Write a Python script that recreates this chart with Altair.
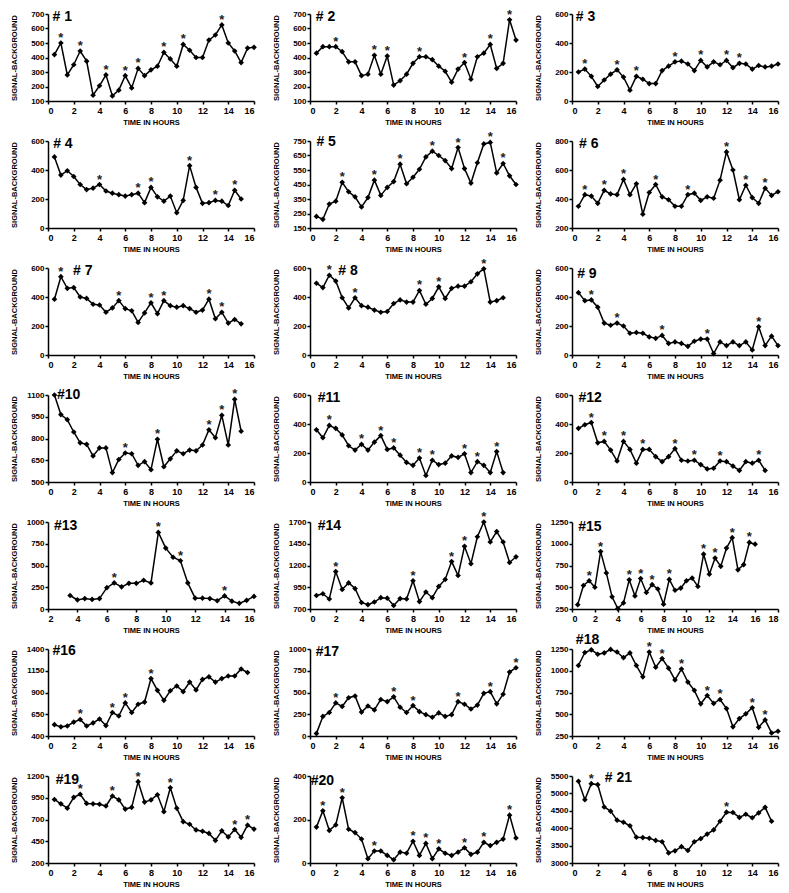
import altair as alt
import pandas as pd

FONT = "Liberation Sans"

# ---- data: signal-background values every 0.5 h, starting at START hours ----
V1 = [420, 500, 280, 350, 445, 375, 140, 205, 280, 135, 175, 275, 190, 325, 275, 315,
      340, 435, 390, 340, 490, 450, 400, 400, 520, 555, 625, 500, 445, 365, 465, 470]
V2 = [430, 475, 475, 475, 440, 370, 370, 275, 285, 415, 285, 410, 210, 240, 285, 360,
      405, 405, 385, 340, 305, 230, 320, 365, 250, 405, 430, 490, 325, 360, 660, 520]
V3 = [200, 220, 170, 100, 145, 185, 215, 165, 75, 170, 150, 120, 120, 210, 240, 270,
      275, 255, 210, 280, 235, 270, 250, 280, 230, 260, 255, 220, 245, 235, 240, 255]
V4 = [490, 365, 395, 355, 300, 265, 275, 300, 255, 240, 230, 220, 230, 240, 175, 280,
      215, 185, 220, 105, 190, 430, 280, 170, 175, 190, 185, 155, 260, 200]
V5 = [230, 210, 315, 335, 465, 400, 365, 295, 360, 480, 375, 430, 470, 590, 455, 500,
      555, 640, 680, 650, 615, 560, 705, 560, 460, 600, 730, 740, 530, 595, 510, 450]
V6 = [350, 430, 420, 370, 460, 435, 430, 535, 430, 505, 295, 445, 500, 415, 395, 350,
      350, 430, 440, 390, 415, 405, 530, 725, 600, 395, 495, 410, 370, 475, 425, 450]
V7 = [385, 540, 460, 465, 400, 390, 350, 345, 295, 325, 375, 320, 305, 225, 290, 360,
      285, 375, 340, 330, 340, 320, 295, 310, 385, 250, 295, 220, 245, 215]
V8 = [495, 465, 550, 510, 395, 325, 395, 340, 330, 310, 295, 300, 355, 380, 365, 365,
      445, 350, 390, 470, 390, 460, 475, 475, 505, 560, 595, 365, 375, 395]
V9 = [430, 375, 380, 330, 220, 205, 220, 200, 150, 155, 150, 125, 115, 135, 80, 90,
      80, 60, 95, 110, 110, 10, 90, 65, 90, 65, 90, 35, 195, 65, 130, 65]
V10 = [1100, 965, 930, 845, 770, 760, 680, 735, 735, 565, 655, 700, 695, 615, 640, 585,
       795, 605, 660, 715, 695, 720, 715, 755, 860, 805, 960, 755, 1070, 850]
V11 = [360, 305, 390, 370, 325, 250, 220, 260, 220, 275, 320, 225, 235, 185, 135, 115,
       165, 45, 150, 120, 130, 180, 170, 195, 65, 140, 115, 65, 210, 65]
V12 = [370, 395, 410, 270, 280, 220, 145, 280, 225, 130, 225, 225, 175, 140, 175, 230,
       150, 145, 150, 120, 90, 95, 145, 140, 110, 80, 140, 130, 150, 80]
V13 = [155, 105, 120, 110, 120, 245, 300, 255, 295, 295, 330, 300, 880, 700, 595, 555,
       300, 125, 125, 120, 95, 150, 90, 65, 100, 145]
V14 = [855, 875, 815, 1130, 925, 1000, 935, 775, 750, 780, 830, 825, 740, 820, 815, 1025,
       785, 895, 830, 960, 1040, 1245, 1085, 1420, 1220, 1530, 1700, 1470, 1590, 1470, 1235, 1300]
V15 = [300, 520, 575, 500, 910, 665, 390, 255, 320, 585, 400, 600, 440, 530, 480, 305,
       590, 465, 490, 575, 605, 510, 880, 650, 835, 740, 950, 1070, 700, 760, 1015, 995]
V16 = [530, 505, 515, 560, 590, 515, 550, 595, 520, 670, 630, 780, 670, 765, 790, 1060,
       925, 810, 920, 975, 910, 1020, 930, 1050, 1080, 1020, 1060, 1090, 1090, 1170, 1130]
V17 = [30, 225, 270, 380, 340, 440, 460, 275, 345, 300, 420, 395, 450, 330, 270, 350,
       280, 245, 215, 265, 225, 245, 395, 365, 310, 355, 490, 510, 370, 480, 735, 785]
V18 = [1060, 1210, 1240, 1190, 1205, 1245, 1215, 1150, 1205, 1060, 930, 1215, 1040, 1140, 1030, 895,
       1020, 870, 775, 620, 715, 625, 670, 565, 355, 450, 505, 575, 350, 435, 285, 305]
V19 = [930, 880, 830, 955, 990, 885, 880, 875, 855, 970, 925, 820, 840, 1135, 900, 925,
       985, 790, 1065, 830, 675, 645, 580, 565, 540, 460, 570, 500, 585, 495, 635, 590]
V20 = [165, 240, 150, 175, 300, 155, 140, 110, 20, 55, 55, 35, 15, 50, 45, 100,
       35, 90, 20, 65, 45, 35, 50, 70, 40, 50, 95, 80, 95, 110, 220, 115]
V21 = [5350, 4820, 5280, 5250, 4610, 4490, 4230, 4170, 4070, 3740, 3730, 3710, 3650, 3610, 3290, 3350,
       3470, 3360, 3610, 3700, 3830, 3950, 4200, 4460, 4450, 4310, 4400, 4300, 4440, 4600, 4200]

VALUES = [V1, V2, V3, V4, V5, V6, V7, V8, V9, V10, V11, V12, V13, V14, V15, V16, V17, V18, V19, V20, V21]
START = [0.5] * 12 + [3.5] + [0.5] * 8

# times (hours) marked with an asterisk
STARS = [
    [1, 2.5, 4.5, 6, 7, 9, 10.5, 13.5],
    [2, 5, 6, 8.5, 12, 14, 15.5],
    [1, 3.5, 5, 8, 10, 12, 13],
    [4, 7, 8, 11, 13, 14.5],
    [2.5, 5, 7, 9.5, 11.5, 14, 15],
    [1, 2.5, 4, 6.5, 9, 12, 13.5, 15],
    [1, 5.5, 8, 9, 12.5, 13.5],
    [1.5, 3.5, 8.5, 10, 13.5],
    [1.5, 3.5, 7, 10.5, 14.5],
    [6, 8.5, 12.5, 13.5, 14.5],
    [1.5, 4, 5.5, 6.5, 8.5, 9.5, 12, 13, 14.5],
    [1.5, 2.5, 4, 5.5, 8, 9.5, 11.5, 14.5],
    [6.5, 9.5, 11, 14],
    [2, 8, 11, 12, 13.5],
    [1.5, 2.5, 5, 6, 7, 8.5, 11.5, 12.5, 14, 15.5],
    [2.5, 5, 6, 8],
    [2, 6.5, 8, 11.5, 14, 16],
    [6, 7, 8.5, 10.5, 11.5, 14, 15],
    [2.5, 5, 7, 9.5, 14.5, 15.5],
    [1, 2.5, 5, 8, 9, 10, 12, 13.5, 15.5],
    [1.5, 12],
]

NAMES = ["# 1", "# 2", "# 3", "# 4", "# 5", "# 6", "# 7", "# 8", "# 9", "#10", "#11", "#12",
         "#13", "#14", "#15", "#16", "#17", "#18", "#19", "#20", "# 21"]

# axis ranges: (xmin, xmax, ymin, ymax, ystep)
AXES = [
    (0, 16, 100, 700, 100), (0, 16, 100, 700, 100), (0, 16, 0, 600, 200),
    (0, 16, 0, 600, 200), (0, 16, 150, 750, 100), (0, 16, 200, 800, 200),
    (0, 16, 0, 600, 200), (0, 16, 0, 600, 200), (0, 16, 0, 600, 200),
    (0, 16, 500, 1100, 150), (0, 16, 0, 600, 200), (0, 16, 0, 600, 200),
    (2, 16, 0, 1000, 250), (0, 16, 700, 1700, 250), (0, 18, 250, 1250, 250),
    (0, 16, 400, 1400, 250), (0, 16, 0, 1000, 250), (0, 16, 250, 1250, 250),
    (0, 16, 200, 1200, 250), (0, 16, 0, 400, 200), (0, 16, 3000, 5500, 500),
]

# panel label: left edge (hours) and vertical offset of its centre below the plot top (px)
LABEL_X = [0.35, 0.45, 0.3, 0.4, 0.5, 0.55, 1.95, 2.2, 0.4, 0.7, 0.6, 0.5,
           2.4, 0.6, 0.55, 0.35, 0.45, 0.3, 0.6, 0.05, 2.55]
LABEL_DY = [3, 3, 2.5, 2.5, 1, 2.5, 3, 2.5, 5.5, 0, 3, 2.5,
            3.5, 3.5, 5, 2, 3, -9.5, 3.5, 4.5, 1.5]

W, H = 206, 87


def panel(i):
    vals = VALUES[i]
    t = [START[i] + 0.5 * k for k in range(len(vals))]
    stars = STARS[i]
    df = pd.DataFrame({"t": t, "v": vals, "star": [tt in stars for tt in t]})
    x0, x1, y0, y1, ys = AXES[i]
    x = alt.X("t:Q", scale=alt.Scale(domain=[x0, x1], nice=False, zero=False),
              axis=alt.Axis(values=list(range(x0, x1 + 1, 2)), title="TIME IN HOURS", format="d"))
    y = alt.Y("v:Q", scale=alt.Scale(domain=[y0, y1], nice=False, zero=False),
              axis=alt.Axis(values=list(range(y0, y1 + 1, ys)), title="SIGNAL-BACKGROUND", format="d"))
    base = alt.Chart(df).encode(x=x, y=y)
    line = base.mark_line(color="black", strokeWidth=1.5)
    pts = base.mark_point(shape="diamond", filled=True, size=32, color="black", opacity=1)
    st = base.transform_filter("datum.star").mark_text(
        text="*", fontSize=13, fontWeight="bold", font=FONT, dy=-5, color="#222")
    ldf = pd.DataFrame({"t": [LABEL_X[i]], "s": [NAMES[i]]})
    lab = alt.Chart(ldf).mark_text(align="left", baseline="middle", fontSize=14,
                                   fontWeight="bold", font=FONT, color="black").encode(
        x=x, y=alt.value(LABEL_DY[i]), text="s:N")
    return alt.layer(line, pts, st, lab).properties(width=W, height=H)


charts = [panel(i) for i in range(21)]

chart = alt.concat(
    *charts, columns=3, spacing={"row": 40, "column": 56}, bounds="flush"
).properties(
    padding={"left": 2, "top": 0, "right": 0, "bottom": 0}
).configure_view(
    stroke=None
).configure_axis(
    grid=False, domainColor="black", domainWidth=1.5, tickColor="black", tickWidth=1.5,
    tickSize=3, labelFont=FONT, labelFontWeight="bold", labelColor="black",
    titleFont=FONT, titleFontWeight="bold", titleColor="black",
).configure_axisY(
    labelFontSize=8, titleFontSize=7.5, labelPadding=1, minExtent=24, maxExtent=24, titlePadding=6
).configure_axisX(
    labelFontSize=9, titleFontSize=7.5, labelPadding=2, titlePadding=3
)

chart.save("out.html", embed_options={"renderer": "svg", "actions": False})
